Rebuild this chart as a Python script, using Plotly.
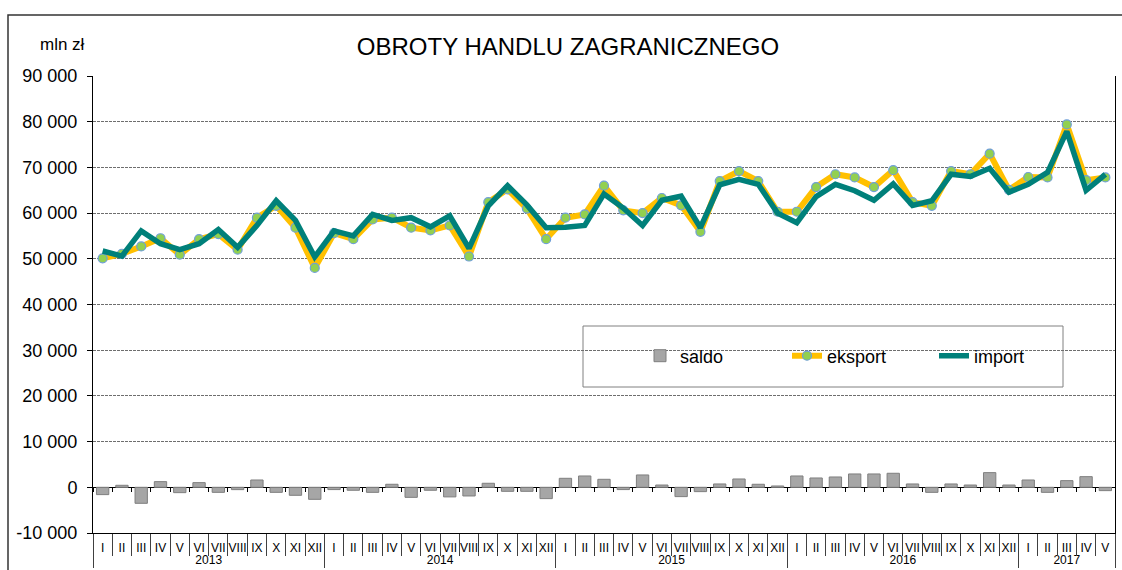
import plotly.graph_objects as go

# ---- data ----
month_names = ["I", "II", "III", "IV", "V", "VI", "VII", "VIII", "IX", "X", "XI", "XII"]
year_counts = {"2013": 12, "2014": 12, "2015": 12, "2016": 12, "2017": 5}

eksport = [
    50100, 51100, 52700, 54500, 50900, 54300, 55400, 52000, 59000, 61600, 56800, 48000,
    55600, 54300, 58600, 59000, 56800, 56200, 57300, 50500, 62400, 65200, 61000, 54300,
    59000, 59700, 66000, 60600, 60000, 63300, 61700, 55900, 67000, 69200, 67000, 60300,
    60300, 65700, 68500, 67800, 65700, 69400, 62400, 61600, 69200, 68500, 73000, 65100,
    67900, 67800, 79400, 67200, 67800,
]
imp = [
    51700, 50600, 56100, 53300, 52000, 53300, 56400, 52500, 57300, 62700, 58400, 50400,
    56100, 55000, 59700, 58400, 59000, 57000, 59400, 52300, 61600, 66000, 61800, 56800,
    56900, 57300, 64200, 61100, 57300, 62800, 63700, 56800, 66200, 67400, 66300, 60000,
    57900, 63600, 66300, 64900, 62800, 66400, 61700, 62700, 68500, 68000, 69800, 64600,
    66300, 68900, 77900, 65000, 68500,
]
saldo = [
    -1600, 440, -3500, 1240, -1170, 1020, -1100, -510, 1600, -1100, -1750, -2630,
    -500, -650, -1100, 660, -2200, -650, -2100, -1900, 880, -880, -880, -2480,
    1970, 2480, 1750, -500, 2700, 500, -2040, -950, 730, 1820, 660, 290,
    2480, 2040, 2260, 2920, 2920, 3070, 730, -1100, 730, 500, 3210, 500,
    1600, -1100, 1460, 2330, -730,
]
y_ticks = [-10000, 0, 10000, 20000, 30000, 40000, 50000, 60000, 70000, 80000, 90000]

years = []
months = []
for y, n in year_counts.items():
    years += [y] * n
    months += month_names[:n]
xcat = [years, months]
idx = list(range(len(months)))

def fmt(v):
    s = f"{abs(v):,}".replace(",", " ")
    return ("-" if v < 0 else "") + s

FONT = "Liberation Sans, Arial, sans-serif"

# pixel geometry of plot area
W, H = 1122, 570
L, R, T, B = 93, 1115, 76, 533
pw, ph = R - L, B - T
def px_x(p):
    return (p - L) / pw
def px_y(p):
    return (B - p) / ph

fig = go.Figure()
fig.add_trace(go.Bar(
    x=xcat, y=saldo, name="saldo",
    marker=dict(color="#A6A6A6", line=dict(color="#7F7F7F", width=1)),
))
fig.add_trace(go.Scatter(
    x=xcat, y=eksport, name="eksport", mode="lines+markers",
    line=dict(color="#FFC000", width=6),
    marker=dict(size=9, color="#92D050", line=dict(color="#6F9FD8", width=1.2)),
))
fig.add_trace(go.Scatter(
    x=xcat, y=imp, name="import", mode="lines",
    line=dict(color="#00807A", width=5.5),
))
# helper (invisible) traces for the small tick axes
fig.add_trace(go.Scatter(x=idx, y=[None] * len(idx), xaxis="x2", showlegend=False,
                         hoverinfo="skip", mode="markers"))
fig.add_trace(go.Scatter(x=idx, y=[None] * len(idx), xaxis="x3", showlegend=False,
                         hoverinfo="skip", mode="markers"))

n = len(months)
fig.update_layout(
    width=W, height=H, autosize=False,
    margin=dict(l=L, r=W - R, t=T, b=H - B, pad=0),
    paper_bgcolor="white", plot_bgcolor="white",
    font=dict(family=FONT, color="black"),
    bargap=0.36,
    title=dict(text="OBROTY HANDLU ZAGRANICZNEGO", font=dict(size=24, color="black", family=FONT),
               xref="container", x=568 / W, xanchor="center",
               yref="container", y=1 - 47 / H, yanchor="middle"),
    xaxis=dict(
        type="multicategory", range=[-0.5, n - 0.5], automargin=False,
        showline=True, linecolor="black", linewidth=1,
        ticks="", showgrid=False, tickangle=0, ticklabelstandoff=4,
        showdividers=True, dividercolor="#404040", dividerwidth=1,
        tickfont=dict(size=12, family=FONT),
    ),
    xaxis2=dict(
        overlaying="x", anchor="free", position=px_y(487), range=[-0.5, n - 0.5],
        showline=False, showgrid=False, zeroline=False, automargin=False,
        ticks="outside", ticklen=4, tickcolor="black", tick0=0.5, dtick=1,
        showticklabels=False,
    ),
    xaxis3=dict(
        overlaying="x", anchor="free", position=0, range=[-0.5, n - 0.5],
        showline=False, showgrid=False, zeroline=False, automargin=False,
        ticks="outside", ticklen=22, tickcolor="#404040", tick0=0.5, dtick=1,
        showticklabels=False,
    ),
    yaxis=dict(
        range=[-10000, 90000], tickvals=y_ticks, ticktext=[fmt(v) for v in y_ticks],
        tickfont=dict(size=18, family=FONT), automargin=False, ticklabelstandoff=6,
        showline=True, linecolor="black", linewidth=1, mirror=True,
        ticks="outside", ticklen=5, tickcolor="black",
        showgrid=True, gridcolor="#6E6E6E", gridwidth=1, griddash="3px,1px",
        zeroline=True, zerolinecolor="black", zerolinewidth=1,
    ),
    legend=dict(
        orientation="h", x=px_x(640), xanchor="left", y=px_y(356), yanchor="middle",
        bgcolor="rgba(0,0,0,0)", borderwidth=0,
        font=dict(size=18, family=FONT),
        entrywidth=102, entrywidthmode="pixels",
    ),
    showlegend=True,
)

fig.add_annotation(text="mln zł", xref="paper", yref="paper", x=px_x(62), y=px_y(45),
                   showarrow=False, font=dict(size=17, family=FONT), xanchor="center", yanchor="middle")

# legend frame
fig.add_shape(type="rect", xref="paper", yref="paper",
              x0=px_x(583), x1=px_x(1063), y0=px_y(326), y1=px_y(387),
              line=dict(color="#808080", width=1), fillcolor="white", layer="below")
# outer chart frame
fig.add_shape(type="rect", xref="paper", yref="paper",
              x0=px_x(8), x1=px_x(1180), y0=px_y(620), y1=px_y(15),
              line=dict(color="#333333", width=1.5), fillcolor="rgba(0,0,0,0)")

fig.write_html("out.html", config={"displayModeBar": False},
               post_script="document.body.style.margin='0';document.body.style.overflow='hidden';")
